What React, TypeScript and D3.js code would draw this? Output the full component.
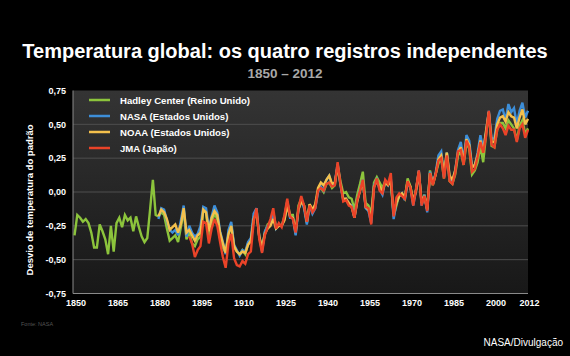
import React from "react";
import * as d3 from "d3";

const hadleyStart = 1850;
const hadley = [
  -0.32, -0.17, -0.19, -0.22, -0.2, -0.23, -0.3, -0.41, -0.41, -0.24,
  -0.29, -0.35, -0.46, -0.25, -0.44, -0.23, -0.19, -0.26, -0.17, -0.21,
  -0.19, -0.29, -0.18, -0.26, -0.33, -0.37, -0.34, -0.13, 0.09, -0.17,
  -0.18, -0.15, -0.17, -0.27, -0.36, -0.34, -0.32, -0.37, -0.26, -0.13,
  -0.35, -0.29, -0.38, -0.4, -0.35, -0.33, -0.14, -0.15, -0.34, -0.23,
  -0.16, -0.2, -0.34, -0.41, -0.45, -0.32, -0.24, -0.41, -0.44, -0.46,
  -0.43, -0.46, -0.38, -0.37, -0.19, -0.12, -0.33, -0.42, -0.3, -0.24,
  -0.22, -0.15, -0.26, -0.24, -0.25, -0.18, -0.07, -0.17, -0.17, -0.31,
  -0.1, -0.05, -0.1, -0.23, -0.09, -0.14, -0.11, 0.01, 0.03, 0.0,
  0.06, 0.07, 0.03, 0.05, 0.2, 0.08, -0.01, 0.0, -0.04, -0.05,
  -0.13, -0.02, 0.06, 0.15, -0.08, -0.1, -0.16, 0.07, 0.11, 0.07,
  0.03, 0.08, 0.06, 0.08, -0.18, -0.1, -0.02, -0.02, -0.05, 0.1,
  0.04, -0.08, 0.02, 0.15, -0.08, -0.02, -0.13, 0.16, 0.05, 0.13,
  0.21, 0.25, 0.1, 0.29, 0.08, 0.06, 0.13, 0.27, 0.3, 0.2,
  0.36, 0.32, 0.13, 0.16, 0.22, 0.34, 0.22, 0.42, 0.59, 0.34,
  0.33, 0.46, 0.51, 0.51, 0.47, 0.53, 0.5, 0.47, 0.38, 0.49,
  0.53, 0.43, 0.47,
];

const nasaStart = 1880;
const nasa = [
  -0.2, -0.12, -0.13, -0.21, -0.28, -0.3, -0.28, -0.32, -0.21, -0.1,
  -0.33, -0.25, -0.3, -0.33, -0.31, -0.25, -0.11, -0.12, -0.27, -0.18,
  -0.1, -0.15, -0.29, -0.37, -0.46, -0.28, -0.22, -0.39, -0.43, -0.47,
  -0.43, -0.44, -0.37, -0.34, -0.16, -0.12, -0.33, -0.44, -0.29, -0.25,
  -0.24, -0.16, -0.27, -0.24, -0.25, -0.2, -0.07, -0.19, -0.19, -0.32,
  -0.13, -0.06, -0.12, -0.24, -0.1, -0.16, -0.12, 0.0, 0.04, 0.01,
  0.09, 0.12, 0.05, 0.07, 0.21, 0.05, -0.06, -0.05, -0.09, -0.1,
  -0.19, -0.06, 0.02, 0.09, -0.12, -0.14, -0.23, 0.05, 0.09, 0.02,
  -0.02, 0.08, 0.05, 0.1, -0.2, -0.08, -0.03, -0.01, -0.06, 0.07,
  0.03, -0.1, 0.01, 0.16, -0.1, -0.02, -0.15, 0.15, 0.06, 0.14,
  0.27, 0.3, 0.11, 0.29, 0.1, 0.07, 0.16, 0.31, 0.37, 0.23,
  0.42, 0.38, 0.19, 0.2, 0.29, 0.42, 0.32, 0.44, 0.6, 0.39,
  0.4, 0.54, 0.6, 0.61, 0.53, 0.65, 0.59, 0.62, 0.5, 0.6,
  0.66, 0.55, 0.6,
];

const noaaStart = 1880;
const noaa = [
  -0.18, -0.13, -0.15, -0.2, -0.28, -0.26, -0.24, -0.3, -0.24, -0.12,
  -0.3, -0.28, -0.32, -0.36, -0.32, -0.3, -0.13, -0.15, -0.29, -0.19,
  -0.14, -0.17, -0.3, -0.38, -0.45, -0.31, -0.25, -0.4, -0.44, -0.46,
  -0.44, -0.45, -0.39, -0.36, -0.2, -0.15, -0.33, -0.41, -0.31, -0.27,
  -0.25, -0.2, -0.27, -0.25, -0.25, -0.21, -0.1, -0.18, -0.19, -0.29,
  -0.13, -0.07, -0.1, -0.22, -0.09, -0.13, -0.09, 0.03, 0.07, 0.05,
  0.09, 0.12, 0.06, 0.07, 0.19, 0.06, -0.05, -0.05, -0.08, -0.11,
  -0.19, -0.07, 0.01, 0.08, -0.11, -0.13, -0.19, 0.04, 0.08, 0.04,
  0.0, 0.07, 0.05, 0.08, -0.16, -0.08, -0.03, -0.01, -0.04, 0.08,
  0.04, -0.07, 0.01, 0.15, -0.08, -0.03, -0.13, 0.14, 0.06, 0.13,
  0.24, 0.27, 0.14, 0.29, 0.12, 0.09, 0.16, 0.29, 0.33, 0.22,
  0.39, 0.35, 0.18, 0.2, 0.27, 0.38, 0.29, 0.45, 0.59, 0.37,
  0.37, 0.5, 0.55, 0.56, 0.52, 0.59, 0.56, 0.55, 0.47, 0.55,
  0.61, 0.5, 0.54,
];

const jmaStart = 1891;
const jma = [
  -0.33, -0.38, -0.48, -0.43, -0.4, -0.22, -0.23, -0.38, -0.27,
  -0.2, -0.25, -0.37, -0.48, -0.56, -0.38, -0.31, -0.49, -0.54, -0.55,
  -0.51, -0.53, -0.46, -0.44, -0.22, -0.12, -0.35, -0.45, -0.32, -0.26,
  -0.2, -0.12, -0.27, -0.23, -0.26, -0.17, -0.05, -0.18, -0.2, -0.3,
  -0.12, -0.03, -0.1, -0.22, -0.1, -0.15, -0.12, 0.01, 0.03, 0.01,
  0.06, 0.07, 0.04, 0.05, 0.22, 0.06, -0.07, -0.06, -0.1, -0.11,
  -0.19, -0.06, 0.01, 0.09, -0.11, -0.12, -0.24, 0.03, 0.1, 0.01,
  -0.01, 0.09, 0.06, 0.14, -0.18, -0.04, -0.01, -0.03, -0.05, 0.08,
  0.03, -0.1, 0.02, 0.16, -0.1, -0.03, -0.14, 0.14, 0.05, 0.13,
  0.23, 0.25, 0.1, 0.27, 0.08, 0.06, 0.14, 0.3, 0.31, 0.2,
  0.38, 0.33, 0.15, 0.17, 0.26, 0.37, 0.29, 0.41, 0.6, 0.35,
  0.33, 0.46, 0.5, 0.47, 0.42, 0.49, 0.46, 0.46, 0.37, 0.47,
  0.5, 0.4, 0.46,
];

const seriesNames = [
  "Hadley Center (Reino Unido)",
  "NASA (Estados Unidos)",
  "NOAA (Estados Unidos)",
  "JMA (Japão)",
];
const seriesColors = ["#8cc43c", "#3d8ed8", "#f4c04c", "#ea4328"];

const yTicks = [0.75, 0.5, 0.25, 0, -0.25, -0.5, -0.75];
const xTicks = [1850, 1865, 1880, 1895, 1910, 1925, 1940, 1955, 1970, 1985, 2000, 2012];

const titleText = "Temperatura global: os quatro registros independentes";
const subtitleText = "1850 – 2012";
const yLabel = "Desvio de temperatura do padrão";

export default function App() {
  const W = 570;
  const H = 356;
  const left = 73;
  const right = 528;
  const top = 90.5;
  const bottom = 293.5;

  const x = d3.scaleLinear().domain([1850, 2012]).range([74.5, 528]);
  const y = d3.scaleLinear().domain([-0.75, 0.75]).range([bottom, top]);

  const toPts = (start: number, vals: number[]) =>
    vals.map((v, i) => [start + i, v] as [number, number]);

  const data = [
    toPts(hadleyStart, hadley),
    toPts(nasaStart, nasa),
    toPts(noaaStart, noaa),
    toPts(jmaStart, jma),
  ];

  const line = d3
    .line<[number, number]>()
    .x((d) => x(d[0]))
    .y((d) => y(d[1]));

  const font = "'Liberation Sans', Arial, Helvetica, sans-serif";
  const fmt = (v: number) => d3.format(".2f")(v).replace(".", ",").replace("−", "-");

  return (
    <div style={{ position: "absolute", left: 0, top: 0, width: W, height: H, background: "#000" }}>
      <svg width={W} height={H} style={{ display: "block" }} fontFamily={font}>
        <defs>
          <linearGradient id="panelGrad" x1="0" y1="0" x2="0" y2="1">
            <stop offset="0%" stopColor="#343434" />
            <stop offset="100%" stopColor="#181818" />
          </linearGradient>
        </defs>
        <rect x={0} y={0} width={W} height={H} fill="#000" />
        <text x={285} y={58} textAnchor="middle" fill="#fff" fontSize={20} fontWeight="bold">
          {titleText}
        </text>
        <text x={285} y={78} textAnchor="middle" fill="#a8a8a8" fontSize={13.5} fontWeight="bold">
          {subtitleText}
        </text>

        <rect x={left} y={top} width={right - left} height={bottom - top} fill="url(#panelGrad)" />
        {yTicks.slice(1, -1).map((t) => (
          <line key={t} x1={left} x2={right} y1={y(t)} y2={y(t)} stroke="#4e4e4e" strokeWidth={1} />
        ))}
        <line x1={left} x2={left} y1={top} y2={bottom} stroke="#8a8a8a" strokeWidth={1} />
        <line x1={left} x2={right} y1={bottom} y2={bottom} stroke="#8a8a8a" strokeWidth={1} />

        {yTicks.map((t) => (
          <text key={t} x={66} y={y(t) + 3.2} textAnchor="end" fill="#fff" fontSize={9} fontWeight="bold">
            {fmt(t)}
          </text>
        ))}
        {xTicks.map((t) => (
          <text key={t} x={x(t) + 1.5} y={306} textAnchor="middle" fill="#fff" fontSize={9} fontWeight="bold">
            {t}
          </text>
        ))}
        <text
          transform={`translate(33,${200}) rotate(-90)`}
          textAnchor="middle"
          fill="#fff"
          fontSize={9.5}
          fontWeight="bold"
        >
          {yLabel}
        </text>

        {data.map((pts, i) => (
          <path
            key={i}
            d={line(pts) || ""}
            fill="none"
            stroke={seriesColors[i]}
            strokeWidth={2.4}
            strokeLinejoin="miter"
            strokeMiterlimit={3}
          />
        ))}

        {seriesNames.map((n, i) => (
          <g key={n} transform={`translate(0,${100 + i * 16})`}>
            <line x1={89} x2={110} y1={0} y2={0} stroke={seriesColors[i]} strokeWidth={2.5} />
            <text x={120} y={3.5} fill="#fff" fontSize={9.6} fontWeight="bold">
              {n}
            </text>
          </g>
        ))}

        <text x={21} y={326} fill="#555" fontSize={5.5}>
          Fonte: NASA
        </text>
        <text x={563} y={346} textAnchor="end" fill="#fff" fontSize={10}>
          NASA/Divulgação
        </text>
      </svg>
    </div>
  );
}
